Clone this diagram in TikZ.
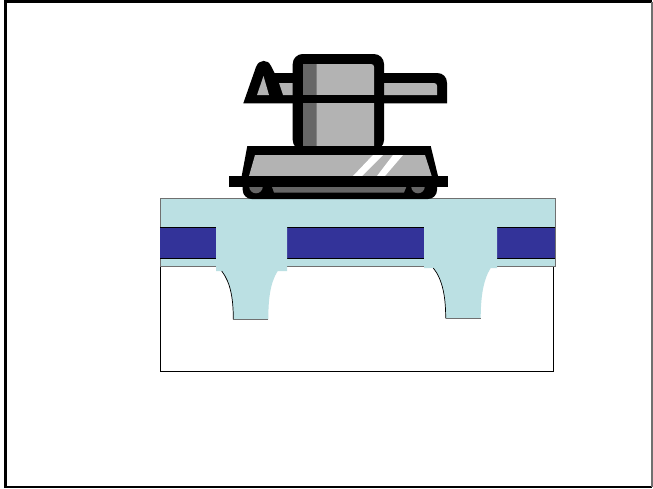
\documentclass[tikz,border=0pt]{standalone}
\definecolor{layercyan}{HTML}{BBE0E3}
\definecolor{bandblue}{HTML}{333399}
\definecolor{toolgray}{HTML}{B3B3B3}
\definecolor{tooldark}{HTML}{666666}
\definecolor{edgegray}{HTML}{707070}
\begin{document}
\begin{tikzpicture}[x=1pt,y=-1pt,
  thinedge/.style={line width=0.9pt},
  layerfill/.style={fill=layercyan}]
\useasboundingbox (0,0) rectangle (653,488);
\fill[white] (0,0) rectangle (653,488);

% outer frame
\draw[line width=2.5pt] (652,1.5) -- (5.5,1.5) -- (5.5,487) -- (652,487);
\draw[edgegray,line width=1.5pt] (652,1.5) -- (652,487);

% ---------- wafer stack ----------
% substrate
\draw[thinedge] (160,266) rectangle (553,371);
% dielectric layer
\fill[layerfill] (160,198) rectangle (555,266);
\draw[edgegray,thinedge] (160,198) rectangle (555,266);
% metal band
\fill[bandblue] (160,227.3) rectangle (555,258.7);
\draw[thinedge] (160,227.3) -- (555,227.3);
\draw[thinedge] (160,258.7) -- (555,258.7);

% first plug
\fill[layerfill] (216,226) -- (287,226) -- (287,271) -- (277.7,271)
  .. controls (270,283) and (268.3,300) .. (268.3,319.3)
  -- (233.3,319.3)
  .. controls (233.3,300) and (231,283) .. (221.7,271)
  -- (216,271) -- cycle;
\draw[line width=0.7pt] (221.7,271) .. controls (231,283) and (233.3,300) .. (233.3,319.3);
\draw[edgegray,line width=0.8pt] (233.3,319.3) -- (268.3,319.3);

% second plug
\fill[layerfill] (424,226) -- (497,226) -- (497,268) -- (490.7,268)
  .. controls (483,280) and (480.7,298) .. (480.7,318.3)
  -- (445.7,318.3)
  .. controls (445.7,298) and (443,280) .. (433.3,268)
  -- (424,268) -- cycle;
\draw[line width=0.7pt] (433.3,268) .. controls (443,280) and (445.7,298) .. (445.7,318.3);
\draw[edgegray,line width=0.8pt] (445.7,318.3) -- (480.7,318.3);

% ---------- polishing head ----------
% arm with knob (black body)
\fill (243.3,103.3) -- (256,67) .. controls (259,59) and (268,59) .. (271,66)
  -- (274.5,73) -- (437,73) .. controls (443,73) and (447,77) .. (447,83)
  -- (447,103.3) -- cycle;
% knob inside
\fill[toolgray] (257,95) -- (263.5,76) -- (269,95) -- cycle;
\fill[toolgray] (279,83) -- (293,83) -- (293,95) -- (283,95) -- cycle;
% arm inside
\fill[toolgray] (380,83) -- (434,83) .. controls (436,83) and (437,84) .. (437,86)
  -- (437,95) -- (380,95) -- cycle;

% column
\fill[rounded corners=10pt] (292.7,54) rectangle (384,150);
\fill[tooldark] (302.7,64) rectangle (316.7,146);
\fill[toolgray] (316.7,64) -- (371,64) .. controls (373,64) and (374,65) .. (374,67)
  -- (374,146) -- (316.7,146) -- cycle;
\fill (292.7,95) rectangle (384,103.3);

% platform
\fill (247.3,146) -- (430.7,146) -- (438,176) -- (241.7,176) -- cycle;
\fill[toolgray] (255,155) -- (425,155) -- (431.7,176) -- (249,176) -- cycle;
\fill[white] (353,176) -- (362,176) -- (383,155) -- (373,155) -- cycle;
\fill[white] (377,176) -- (385,176) -- (403,155) -- (393,155) -- cycle;

% pad with rollers
\fill[rounded corners=9pt] (242.7,178) rectangle (437,199);
\fill[tooldark] (256,186.5) circle (6.8pt);
\fill[tooldark] (418,186.5) circle (6.8pt);
\fill[tooldark] (271.7,186) -- (406.7,186) -- (404,192.5) -- (274,192.5) -- cycle;

% clamp bar
\fill (229.3,176) rectangle (448,186.7);
\end{tikzpicture}
\end{document}
